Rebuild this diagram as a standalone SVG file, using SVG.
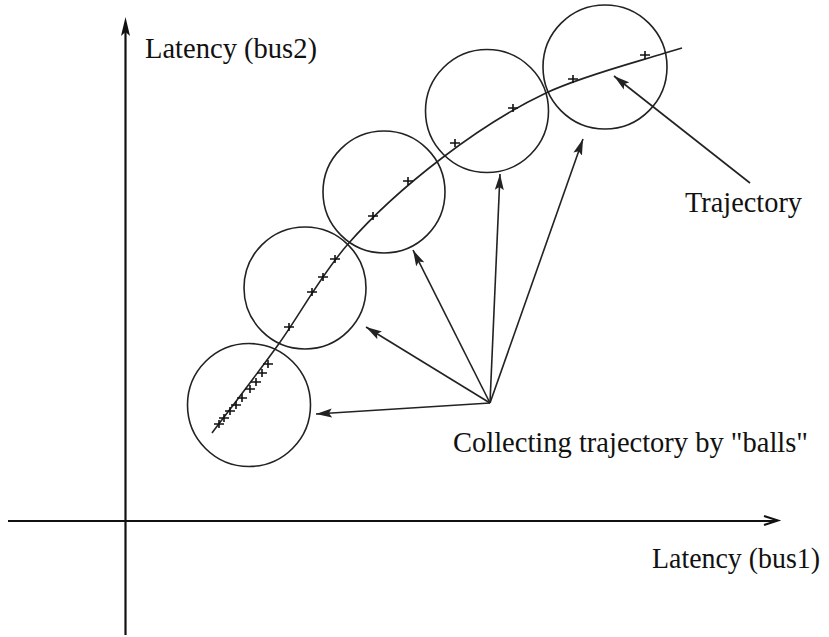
<svg xmlns="http://www.w3.org/2000/svg" width="829" height="637" viewBox="0 0 829 637">
<style>
.ax{stroke:#111;stroke-width:2.2;fill:none}
.ball{stroke:#222;stroke-width:1.6;fill:none}
.traj{stroke:#222;stroke-width:1.6;fill:none}
.tick{stroke:#111;stroke-width:1.6;fill:none}
.arr{stroke:#222;stroke-width:1.6;fill:none;marker-end:url(#ah)}
.lbl{font-size:29px;fill:#111}
</style>
<defs>
<marker id="ah" markerUnits="userSpaceOnUse" markerWidth="17" markerHeight="10" refX="16" refY="5" orient="auto">
<path d="M0,0.5 L16,5 L0,9.5 L3,5 z" fill="#222"/>
</marker>
<path id="plus" d="M-5,0 H5 M0,-4 V4"/>
</defs>
<rect width="829" height="637" fill="#fff"/>
<g id="axes">
<path class="ax" d="M125.5,635 V30"/>
<path d="M125.5,17 L130,36 L125.5,32 L121,36 z" fill="#111"/>
<path class="ax" d="M8,521 H776"/>
<path d="M764,516 L778,520.5 L764,525" stroke="#111" stroke-width="2" fill="none"/>
</g>
<g id="balls">
<circle id="ball1" class="ball" cx="249" cy="405" r="61.5"/>
<circle id="ball2" class="ball" cx="305" cy="288" r="61"/>
<circle id="ball3" class="ball" cx="384" cy="192" r="61"/>
<circle id="ball4" class="ball" cx="487" cy="111" r="61.5"/>
<circle id="ball5" class="ball" cx="605" cy="67" r="62"/>
</g>
<g id="trajectory">
<path class="traj" d="M212,433 C223,418.3 255.3,376.5 278,345 C300.7,313.5 320.7,275.2 348,244 C375.3,212.8 409,183.2 442,158 C475,132.8 508.8,110.5 546,93 C583.2,75.5 642.3,60.5 665,53 L682,48"/>
<g class="tick">
<use href="#plus" x="219" y="424"/>
<use href="#plus" x="224" y="418"/>
<use href="#plus" x="230" y="411"/>
<use href="#plus" x="236" y="405"/>
<use href="#plus" x="242" y="398"/>
<use href="#plus" x="250" y="389"/>
<use href="#plus" x="256" y="382"/>
<use href="#plus" x="262" y="373"/>
<use href="#plus" x="268" y="364"/>
<use href="#plus" x="289" y="327"/>
<use href="#plus" x="312" y="292"/>
<use href="#plus" x="323" y="277"/>
<use href="#plus" x="335" y="259"/>
<use href="#plus" x="373" y="216"/>
<use href="#plus" x="408" y="181"/>
<use href="#plus" x="455" y="143"/>
<use href="#plus" x="513" y="108"/>
<use href="#plus" x="573" y="79"/>
<use href="#plus" x="645" y="55"/>
</g>
</g>
<g id="connectors">
<path class="arr" d="M490,403 L316,414"/>
<path class="arr" d="M490,403 L366,327"/>
<path class="arr" d="M490,403 L413,250"/>
<path class="arr" d="M490,403 L500,174"/>
<path class="arr" d="M490,403 L583,139"/>
<path class="arr" d="M750,183 L614,76"/>
</g>
<g id="labels" font-family="'Liberation Serif', 'DejaVu Serif', serif">
<text class="lbl" x="145" y="58" textLength="172" lengthAdjust="spacingAndGlyphs">Latency (bus2)</text>
<text class="lbl" x="685" y="212" textLength="117" lengthAdjust="spacingAndGlyphs">Trajectory</text>
<text class="lbl" x="453" y="452" textLength="355" lengthAdjust="spacingAndGlyphs">Collecting trajectory by "balls"</text>
<text class="lbl" x="652" y="568" font-size="28" textLength="168" lengthAdjust="spacingAndGlyphs">Latency (bus1)</text>
</g>
</svg>
